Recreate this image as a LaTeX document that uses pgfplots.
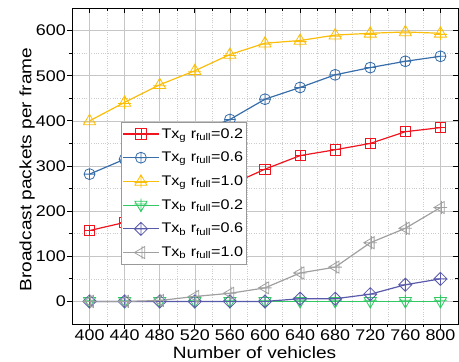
\documentclass[border=0pt]{standalone}
\usepackage{pgfplots}
\pgfplotsset{compat=1.18}
\usepackage{fontspec}
\setmainfont{Liberation Sans}[FakeStretch=1.16]
\definecolor{cred}{RGB}{240,20,30}
\definecolor{cblue}{RGB}{55,110,170}
\definecolor{cyel}{RGB}{250,190,10}
\definecolor{cgreen}{RGB}{50,200,100}
\definecolor{cpurp}{RGB}{90,90,170}
\definecolor{cgray}{RGB}{160,160,160}
\pgfdeclareplotmark{sqplus}{%
  \pgfpathrectangle{\pgfpoint{-\pgfplotmarksize}{-\pgfplotmarksize}}{\pgfpoint{2\pgfplotmarksize}{2\pgfplotmarksize}}%
  \pgfpathmoveto{\pgfpoint{-\pgfplotmarksize}{0pt}}\pgfpathlineto{\pgfpoint{\pgfplotmarksize}{0pt}}%
  \pgfpathmoveto{\pgfpoint{0pt}{-\pgfplotmarksize}}\pgfpathlineto{\pgfpoint{0pt}{\pgfplotmarksize}}%
  \pgfusepathqstroke}
\pgfdeclareplotmark{circplus}{%
  \pgfpathcircle{\pgfpointorigin}{\pgfplotmarksize}%
  \pgfpathmoveto{\pgfpoint{-\pgfplotmarksize}{0pt}}\pgfpathlineto{\pgfpoint{\pgfplotmarksize}{0pt}}%
  \pgfpathmoveto{\pgfpoint{0pt}{-\pgfplotmarksize}}\pgfpathlineto{\pgfpoint{0pt}{\pgfplotmarksize}}%
  \pgfusepathqstroke}
\pgfdeclareplotmark{triplus}{%
  \pgfpathmoveto{\pgfpoint{0pt}{1.2\pgfplotmarksize}}%
  \pgfpathlineto{\pgfpoint{-1.1\pgfplotmarksize}{-0.7\pgfplotmarksize}}%
  \pgfpathlineto{\pgfpoint{1.1\pgfplotmarksize}{-0.7\pgfplotmarksize}}\pgfpathclose
  \pgfpathmoveto{\pgfpoint{-1.2\pgfplotmarksize}{-0.2\pgfplotmarksize}}\pgfpathlineto{\pgfpoint{1.2\pgfplotmarksize}{-0.2\pgfplotmarksize}}%
  \pgfpathmoveto{\pgfpoint{0pt}{-1.2\pgfplotmarksize}}\pgfpathlineto{\pgfpoint{0pt}{1.2\pgfplotmarksize}}%
  \pgfusepathqstroke}
\pgfdeclareplotmark{dtriplus}{%
  \pgfpathmoveto{\pgfpoint{0pt}{-1.2\pgfplotmarksize}}%
  \pgfpathlineto{\pgfpoint{-1.1\pgfplotmarksize}{0.7\pgfplotmarksize}}%
  \pgfpathlineto{\pgfpoint{1.1\pgfplotmarksize}{0.7\pgfplotmarksize}}\pgfpathclose
  \pgfpathmoveto{\pgfpoint{-1.2\pgfplotmarksize}{0.2\pgfplotmarksize}}\pgfpathlineto{\pgfpoint{1.2\pgfplotmarksize}{0.2\pgfplotmarksize}}%
  \pgfpathmoveto{\pgfpoint{0pt}{-1.2\pgfplotmarksize}}\pgfpathlineto{\pgfpoint{0pt}{1.2\pgfplotmarksize}}%
  \pgfusepathqstroke}
\pgfdeclareplotmark{diaplus}{%
  \pgfpathmoveto{\pgfpoint{0pt}{1.2\pgfplotmarksize}}%
  \pgfpathlineto{\pgfpoint{-1.2\pgfplotmarksize}{0pt}}%
  \pgfpathlineto{\pgfpoint{0pt}{-1.2\pgfplotmarksize}}%
  \pgfpathlineto{\pgfpoint{1.2\pgfplotmarksize}{0pt}}\pgfpathclose
  \pgfpathmoveto{\pgfpoint{-1.2\pgfplotmarksize}{0pt}}\pgfpathlineto{\pgfpoint{1.2\pgfplotmarksize}{0pt}}%
  \pgfpathmoveto{\pgfpoint{0pt}{-1.2\pgfplotmarksize}}\pgfpathlineto{\pgfpoint{0pt}{1.2\pgfplotmarksize}}%
  \pgfusepathqstroke}
\pgfdeclareplotmark{ltriplus}{%
  \pgfpathmoveto{\pgfpoint{-1.2\pgfplotmarksize}{0pt}}%
  \pgfpathlineto{\pgfpoint{0.7\pgfplotmarksize}{1.1\pgfplotmarksize}}%
  \pgfpathlineto{\pgfpoint{0.7\pgfplotmarksize}{-1.1\pgfplotmarksize}}\pgfpathclose
  \pgfpathmoveto{\pgfpoint{-1.2\pgfplotmarksize}{0pt}}\pgfpathlineto{\pgfpoint{1.2\pgfplotmarksize}{0pt}}%
  \pgfpathmoveto{\pgfpoint{0.2\pgfplotmarksize}{-1.2\pgfplotmarksize}}\pgfpathlineto{\pgfpoint{0.2\pgfplotmarksize}{1.2\pgfplotmarksize}}%
  \pgfusepathqstroke}
\begin{document}
\begin{tikzpicture}
\begin{axis}[
  name=main,
  scale only axis, width=386bp, height=316bp,
  xmin=380, xmax=820, ymin=-50, ymax=650,
  xtick={400,440,...,800}, ytick={0,100,...,600},
  minor x tick num=1, minor y tick num=1,
  xtick pos=left, ytick pos=left, tick align=outside,
  major tick length=5bp, minor tick length=3bp,
  grid=both,
  major grid style={draw=gray!45, line width=0.6pt},
  minor grid style={draw=gray!40, dotted, line width=0.6pt},
  axis line style={line width=0.8pt},
  tick style={line width=0.8pt, black},
  /pgf/number format/assume math mode=true,
  tick label style={font=\fontsize{15.5}{17}\selectfont},
  xticklabel style={inner sep=1bp},
  yticklabel style={inner sep=1bp},
  xlabel={Number of vehicles}, ylabel={Broadcast packets per frame},
  xlabel style={font=\fontsize{16.5}{18}\selectfont, at={(axis description cs:0.473,-0.108)}, anchor=base},
  ylabel style={font=\fontsize{16.5}{18}\selectfont, at={(axis description cs:-0.096,0.489)}, anchor=south, inner sep=0pt},
  every axis plot/.append style={line width=1.2pt, mark options={solid, line width=0.8pt}},
  legend style={at={(rel axis cs:0.127,0.639)}, anchor=north west, draw=gray!80, line width=0.6pt,
    font=\fontsize{14}{16}\selectfont, row sep=8.5bp, inner xsep=1bp, inner ysep=4bp, fill=white},
  legend cell align=left,
  legend image code/.code={\draw[mark repeat=2,mark phase=2] plot coordinates {(0bp,0bp) (18bp,0bp) (36bp,0bp)};},
]
\addplot[cred, mark=sqplus, mark size=5.2pt] coordinates {(400,157)(440,175)(480,200)(520,228)(560,258)(600,293)(640,323)(680,336)(720,350)(760,376)(800,385)};
\addlegendentry{Tx\textsubscript{g} r\textsubscript{full}=0.2}
\addplot[cblue, mark=circplus, mark size=5.5pt] coordinates {(400,282)(440,315)(480,342)(520,372)(560,403)(600,448)(640,474)(680,502)(720,518)(760,532)(800,543)};
\addlegendentry{Tx\textsubscript{g} r\textsubscript{full}=0.6}
\addplot[cyel, mark=triplus, mark size=5.5pt] coordinates {(400,400)(440,441)(480,480)(520,511)(560,547)(600,572)(640,578)(680,590)(720,594)(760,597)(800,594)};
\addlegendentry{Tx\textsubscript{g} r\textsubscript{full}=1.0}
\addplot[cgreen, mark=dtriplus, mark size=5.5pt] coordinates {(400,0)(440,0)(480,0)(520,0)(560,0)(600,0)(640,0)(680,0)(720,0)(760,0)(800,0)};
\addlegendentry{Tx\textsubscript{b} r\textsubscript{full}=0.2}
\addplot[cpurp, mark=diaplus, mark size=5.5pt] coordinates {(400,0)(440,0)(480,0)(520,0)(560,0)(600,0)(640,6)(680,6)(720,16)(760,37)(800,50)};
\addlegendentry{Tx\textsubscript{b} r\textsubscript{full}=0.6}
\addplot[cgray, mark=ltriplus, mark size=5.5pt] coordinates {(400,0)(440,0)(480,2)(520,11)(560,18)(600,30)(640,63)(680,76)(720,130)(760,162)(800,208)};
\addlegendentry{Tx\textsubscript{b} r\textsubscript{full}=1.0}
\end{axis}
\begin{axis}[
  scale only axis, width=386bp, height=316bp,
  xmin=380, xmax=820, ymin=-50, ymax=650,
  xtick={400,440,...,800}, ytick={0,100,...,600},
  minor x tick num=1, minor y tick num=1,
  axis x line*=top, axis y line*=right, tick align=inside,
  major tick length=5bp, minor tick length=3bp,
  xticklabels={}, yticklabels={},
  axis line style={line width=0.8pt, -},
  tick style={line width=0.8pt, black},
]
\end{axis}
\pgfresetboundingbox
\path (main.south west) ++(-72bp,-38bp) rectangle ++(459bp,362bp);
\end{tikzpicture}
\end{document}
